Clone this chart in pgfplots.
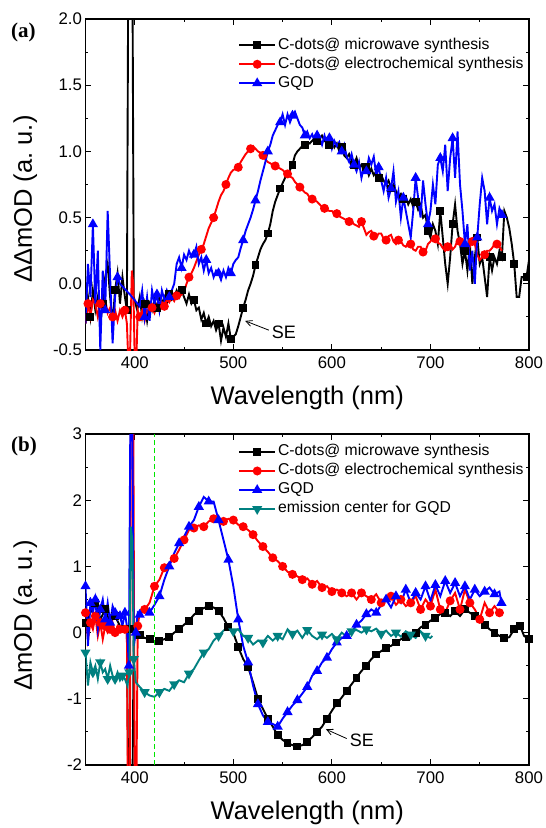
\documentclass[border=0pt]{standalone}
\usepackage{fontspec}
\setmainfont{Liberation Sans}
\newfontfamily\panelfont{Liberation Serif}
\usepackage{pgfplots}
\pgfplotsset{compat=1.18}
\usetikzlibrary{arrows.meta}
\definecolor{emteal}{RGB}{0,128,128}
\definecolor{guide}{RGB}{0,230,0}

\pgfplotsset{
  spec/.style={
    scale only axis, width=443.5pt, height=331pt,
    xmin=350, xmax=800, xtick={400,500,...,800}, minor x tick num=1,
    tick align=inside, major tick length=6pt, minor tick length=3pt,
    axis line style={line width=1.1pt},
    every tick/.style={line width=0.9pt, black},
    tick label style={font=\fontsize{16.8}{18}\selectfont},
    /pgf/number format/assume math mode=true,
    xticklabel style={yshift=-3pt},
    label style={font=\fontsize{25.5}{28}\selectfont},
    xlabel={Wavelength (nm)},
    xlabel style={at={(axis description cs:0.5,-0.145)}, anchor=center},
    legend style={draw=none, fill=none, anchor=north west,
      font=\fontsize{15.7}{18}\selectfont, inner sep=0pt, row sep=0pt, column sep=0pt,
      nodes={inner sep=2pt, text height=11.5pt, text depth=3.5pt}},
    legend cell align=left,
  },
  limg/.style={legend image code/.code={\draw[##1, mark repeat=2, mark phase=2]
      plot coordinates {(0pt,0pt) (18pt,0pt) (36pt,0pt)};}},
  mw/.style={limg, black, line width=1.9pt, mark=square*, mark size=3pt, mark options={solid}},
  ec/.style={limg, red, line width=1.9pt, mark=*, mark size=3.5pt, mark options={solid}},
  gqd/.style={limg, blue, line width=1.9pt, mark=triangle*, mark size=4pt, mark options={solid}},
  emc/.style={limg, emteal, line width=1.9pt, mark=triangle*, mark size=4pt, mark options={solid, rotate=180}},
}

\begin{document}
\begin{tikzpicture}
\path[use as bounding box] (0pt,0pt) rectangle (546pt,-828pt);

% ---------- (a) ----------
\begin{axis}[spec, at={(85.5pt,-350pt)}, anchor=south west,
  ymin=-0.5, ymax=2.0, ytick={-0.5,0,...,2.0}, minor y tick num=1,
  yticklabel style={/pgf/number format/.cd, fixed, fixed zerofill, precision=1},
  ylabel={ΔΔmOD (a.~u.)},
  ylabel style={at={(axis description cs:-0.136,0.456)}, anchor=center},
  legend style={at={(axis description cs:0.344,0.950)}}]

\addplot[mw, mark repeat=5, mark phase=3] coordinates {
(350,-0.3)(352.5,-0.1)(355,-0.25)(357.5,-0.05)(360,-0.2)(362.5,-0.1)(365,-0.3)(367.5,-0.15)(370,0.05)(372.5,0.15)
(375,-0.1)(377.5,-0.3)(380,-0.05)(382.5,0.08)(385,-0.15)(387.5,0.05)(390,-0.1)(392,-0.2)(393.5,2.6)(397.5,2.6)
(399,-0.1)(402.5,-0.2)(405,-0.1)(407.5,-0.25)(410,-0.15)(412.5,-0.28)(415,-0.15)(417.5,-0.2)(420,-0.12)(422.5,-0.18)
(425,-0.1)(427.5,-0.15)(430,-0.1)(432.5,-0.15)(435,-0.08)(437.5,-0.12)(440,-0.1)(442.5,-0.05)(445,-0.1)(447.5,-0.05)
(450,-0.1)(452.5,-0.15)(455,-0.08)(457.5,-0.15)(460,-0.12)(462.5,-0.2)(465,-0.18)(467.5,-0.27)(470,-0.22)(472.5,-0.3)
(475,-0.25)(477.5,-0.32)(480,-0.28)(482.5,-0.35)(485,-0.3)(487.5,-0.43)(490,-0.33)(492.5,-0.4)(495,-0.3)(497.5,-0.42)
(500,-0.4)(502.5,-0.38)(505,-0.32)(507.5,-0.25)(510,-0.18)(512.5,-0.12)(515,-0.05)(517.5,0.0)(520,0.06)(522.5,0.14)
(525,0.2)(527.5,0.26)(530,0.3)(532.5,0.33)(535,0.38)(537.5,0.45)(540,0.55)(542.5,0.62)(545,0.67)(547.5,0.72)
(550,0.76)(552.5,0.8)(555,0.83)(557.5,0.86)(560,0.9)(562.5,0.97)(565,1.0)(567.5,1.02)(570,1.04)(572.5,1.05)
(575,1.07)(577.5,1.06)(580,1.08)(582.5,1.1)(585,1.08)(587.5,1.1)(590,1.12)(592.5,1.08)(595,1.1)(597.5,1.05)
(600,1.08)(602.5,1.03)(605,1.06)(607.5,1.0)(610,1.03)(612.5,0.97)(615,0.95)(617.5,0.98)(620,0.93)(622.5,0.9)
(625,0.95)(627.5,0.88)(630,0.9)(632.5,0.85)(635,0.88)(637.5,0.82)(640,0.87)(642.5,0.82)(645,0.85)(647.5,0.8)
(650,0.82)(652.5,0.78)(655,0.75)(657.5,0.78)(660,0.72)(662.5,0.75)(665,0.7)(667.5,0.66)(670,0.68)(672.5,0.64)
(675,0.66)(677.5,0.6)(680,0.64)(682.5,0.58)(685,0.62)(687.5,0.56)(690,0.6)(692.5,0.5)(695,0.52)(697.5,0.4)
(700,0.35)(702.5,0.45)(705,0.4)(707.5,0.3)(710,0.55)(712.5,0.35)(715,0.15)(717.5,0.0)(720,0.2)(722.5,0.45)
(725,0.6)(727.5,0.4)(730,0.3)(732.5,0.15)(735,0.25)(737.5,0.1)(740,0.3)(742.5,0.0)(745,0.2)(747.5,0.35)
(750,0.15)(752.5,0.2)(755,0.05)(757.5,-0.1)(760,0.2)(762.5,0.1)(765,0.2)(767.5,0.15)(770,0.25)(772.5,0.2)
(775,0.55)(777.5,0.5)(780,0.42)(782.5,0.3)(785,0.15)(787.5,-0.1)(790,-0.1)(792.5,0.05)(795,0.05)(797.5,0.05)(800,0.18)
};
\addlegendentry{C-dots@ microwave synthesis}

\addplot[ec, mark repeat=5, mark phase=2] coordinates {
(350,-0.3)(352.5,-0.15)(355,-0.25)(357.5,-0.12)(360,-0.15)(362.5,-0.25)(365,-0.15)(367.5,-0.2)(370,-0.12)(372.5,-0.22)
(375,-0.18)(377.5,-0.25)(380,-0.2)(382.5,-0.28)(385,-0.2)(387.5,-0.25)(390,-0.2)(392,-0.3)(393.5,-0.6)(395,-0.6)
(397,0.1)(398.5,0.0)(400,-0.6)(401.5,-0.6)(403,-0.2)(405,-0.25)(407.5,-0.2)(410,-0.28)(412.5,-0.2)(415,-0.22)
(417.5,-0.18)(420,-0.22)(422.5,-0.16)(425,-0.18)(427.5,-0.14)(430,-0.17)(432.5,-0.12)(435,-0.14)(437.5,-0.1)(440,-0.13)
(442.5,-0.09)(445,-0.1)(447.5,-0.08)(450,-0.06)(452.5,0.0)(455,0.05)(457.5,0.08)(460,0.12)(462.5,0.17)(465,0.22)
(467.5,0.26)(470,0.3)(472.5,0.36)(475,0.42)(477.5,0.46)(480,0.5)(482.5,0.56)(485,0.62)(487.5,0.67)(490,0.7)
(492.5,0.75)(495,0.8)(497.5,0.84)(500,0.86)(502.5,0.87)(505,0.88)(507.5,0.92)(510,0.95)(512.5,0.98)(515,1.0)
(517.5,1.02)(520,1.04)(522.5,1.02)(525,1.0)(527.5,0.99)(530,0.97)(532.5,0.94)(535,0.92)(537.5,0.91)(540,0.9)
(542.5,0.89)(545,0.88)(547.5,0.87)(550,0.86)(552.5,0.84)(555,0.83)(557.5,0.81)(560,0.8)(562.5,0.77)(565,0.75)
(567.5,0.73)(570,0.71)(572.5,0.69)(575,0.68)(577.5,0.65)(580,0.64)(582.5,0.63)(585,0.62)(587.5,0.6)(590,0.58)
(592.5,0.57)(595,0.56)(597.5,0.55)(600,0.55)(602.5,0.53)(605,0.53)(607.5,0.51)(610,0.5)(612.5,0.49)(615,0.48)
(617.5,0.47)(620,0.47)(622.5,0.45)(625,0.44)(627.5,0.43)(630,0.47)(632.5,0.42)(635,0.37)(637.5,0.39)(640,0.4)
(642.5,0.36)(645,0.35)(647.5,0.38)(650,0.38)(652.5,0.34)(655,0.33)(657.5,0.36)(660,0.37)(662.5,0.32)(665,0.3)
(667.5,0.33)(670,0.32)(672.5,0.29)(675,0.28)(677.5,0.31)(680,0.3)(682.5,0.26)(685,0.25)(687.5,0.28)(690,0.28)
(692.5,0.24)(695,0.25)(697.5,0.3)(700,0.32)(702.5,0.35)(705,0.34)(707.5,0.31)(710,0.3)(712.5,0.27)(715,0.25)
(717.5,0.28)(720,0.3)(722.5,0.26)(725,0.28)(727.5,0.33)(730,0.32)(732.5,0.28)(735,0.3)(737.5,0.25)(740,0.28)
(742.5,0.32)(745,0.3)(747.5,0.22)(750,0.18)(752.5,0.2)(755,0.22)(757.5,0.25)(760,0.25)(762.5,0.27)(765,0.3)
(767.5,0.3)(770,0.28)(772.5,0.25)
};
\addlegendentry{C-dots@ electrochemical synthesis}

\addplot[gqd, mark repeat=5, mark phase=4] coordinates {
(350,-0.3)(352.5,0.15)(355,-0.1)(357.5,0.45)(360,-0.15)(362.5,0.25)(365,-0.5)(367.5,0.1)(370,-0.2)(372.5,0.55)
(375,0.05)(377.5,-0.45)(380,-0.1)(382.5,0.05)(385,0.0)(395,-0.08)(405,-0.17)(407.5,-0.05)(410,-0.25)(412.5,-0.1)
(415,-0.28)(417.5,-0.05)(420,-0.15)(422.5,-0.08)(425,-0.2)(427.5,-0.05)(430,-0.12)(432.5,-0.05)(435,-0.1)(437.5,-0.05)
(440,0.0)(442.5,0.15)(445,0.2)(447.5,0.12)(450,0.22)(452.5,0.18)(455,0.25)(457.5,0.2)(460,0.22)(462.5,0.28)
(465,0.15)(467.5,0.2)(470,0.1)(472.5,0.18)(475,0.08)(477.5,0.12)(480,0.05)(482.5,0.1)(485,0.08)(487.5,0.03)
(490,0.1)(492.5,0.05)(495,0.12)(497.5,0.08)(500,0.15)(502.5,0.18)(505,0.2)(507.5,0.27)(510,0.33)(512.5,0.4)
(515,0.45)(517.5,0.5)(520,0.56)(522.5,0.63)(525,0.7)(527.5,0.78)(530,0.85)(532.5,0.92)(535,1.0)(537.5,1.05)
(540,1.12)(542.5,1.16)(545,1.2)(547.5,1.22)(550,1.28)(552.5,1.2)(555,1.28)(557.5,1.22)(560,1.27)(562.5,1.3)
(565,1.25)(567.5,1.2)(570,1.18)(572.5,1.12)(575,1.15)(577.5,1.1)(580,1.13)(582.5,1.08)(585,1.12)(587.5,1.1)
(590,1.05)(592.5,1.12)(595,1.06)(597.5,1.1)(600,1.02)(602.5,1.08)(605,1.04)(607.5,1.07)(610,1.0)(612.5,1.05)
(615,0.96)(617.5,0.92)(620,0.98)(622.5,0.9)(625,0.85)(627.5,0.92)(630,0.8)(632.5,0.88)(635,0.85)(637.5,0.95)
(640,0.9)(642.5,0.96)(645,0.82)(647.5,0.88)(650,0.78)(652.5,0.7)(655,0.8)(657.5,0.65)(660,0.72)(662.5,0.85)
(665,0.62)(667.5,0.7)(670,0.5)(672.5,0.65)(675,0.55)(677.5,0.45)(680,0.35)(682.5,0.55)(685,0.8)(687.5,0.65)
(690,0.5)(692.5,0.78)(695,0.6)(697.5,0.45)(700,0.55)(702.5,0.75)(705,0.6)(707.5,0.9)(710,0.95)(712.5,0.85)
(715,1.05)(717.5,0.7)(720,0.95)(722.5,1.1)(725,0.8)(727.5,1.15)(730,0.75)(732.5,0.55)(735,0.3)(737.5,0.45)
(740,0.1)(742.5,0.25)(745,0.0)(747.5,0.35)(750,0.6)(752.5,0.8)(755,0.7)(757.5,0.45)(760,0.65)(762.5,0.55)
(765,0.6)(767.5,0.45)(770,0.57)(772.5,0.52)
};
\addlegendentry{GQD}

\draw[line width=0.8pt, -{Straight Barb[length=6pt,width=6pt]}] (axis cs:536,-0.35) -- (axis cs:512,-0.28);
\node[anchor=west, inner sep=1pt, font=\fontsize{18}{20}\selectfont] at (axis cs:538,-0.37) {SE};
\end{axis}

% ---------- (b) ----------
\begin{axis}[spec, at={(85.5pt,-765pt)}, anchor=south west,
  ymin=-2, ymax=3, ytick={-2,-1,...,3}, minor y tick num=1,
  ylabel={ΔmOD (a.~u.)},
  ylabel style={at={(axis description cs:-0.136,0.452)}, anchor=center},
  legend style={at={(axis description cs:0.344,0.975)}}]

\addplot[mw, mark repeat=2] coordinates {
(350,0.15)(355,0.3)(360,0.45)(365,0.2)(370,0.35)(375,0.15)(380,0.25)(385,0.1)(390,0.05)(392,0.0)
(393.5,-2.6)(397.5,-2.6)(399,0.05)(402,0.0)(405,-0.03)(410,-0.08)(415,-0.1)(420,-0.14)(425,-0.12)(430,-0.1)
(435,-0.07)(440,0.0)(445,0.05)(450,0.12)(455,0.18)(460,0.27)(465,0.33)(470,0.37)(475,0.4)(480,0.38)
(485,0.33)(490,0.22)(495,0.08)(500,0.0)(505,-0.22)(510,-0.4)(515,-0.52)(520,-0.75)(525,-1.0)(530,-1.15)
(535,-1.3)(540,-1.42)(545,-1.55)(550,-1.62)(555,-1.67)(560,-1.7)(565,-1.72)(570,-1.7)(575,-1.65)(580,-1.58)
(585,-1.5)(590,-1.42)(595,-1.3)(600,-1.18)(605,-1.07)(610,-0.98)(615,-0.88)(620,-0.78)(625,-0.68)(630,-0.58)
(635,-0.5)(640,-0.4)(645,-0.33)(650,-0.28)(655,-0.23)(660,-0.2)(665,-0.15)(670,-0.1)(675,-0.06)(680,-0.02)
(685,0.0)(690,0.08)(695,0.12)(700,0.18)(705,0.22)(710,0.28)(715,0.3)(720,0.25)(725,0.32)(730,0.25)
(735,0.35)(740,0.3)(745,0.25)(750,0.22)(755,0.12)(760,0.05)(765,0.0)(770,-0.05)(775,-0.08)(780,-0.07)
(785,0.05)(788,0.12)(791,0.1)(795,-0.05)(800,-0.1)
};
\addlegendentry{C-dots@ microwave synthesis}

\addplot[ec, mark repeat=2] coordinates {
(350,0.3)(352.5,-0.1)(355,0.15)(357.5,0.05)(360,0.25)(362.5,-0.05)(365,0.15)(367.5,-0.1)(370,0.1)(372.5,0.0)
(375,0.05)(377.5,0.15)(380,0.0)(382.5,0.1)(385,0.05)(387.5,0.1)(390,0.05)(392,0.0)(393,-2.6)(395,-2.6)
(396,3.2)(398.5,3.2)(400,-2.6)(401.5,-2.6)(403,0.1)(405,0.3)(410,0.35)(415,0.45)(420,0.7)(425,0.8)
(430,0.98)(435,1.05)(440,1.12)(445,1.25)(450,1.4)(455,1.55)(460,1.58)(465,1.62)(470,1.6)(475,1.68)
(480,1.72)(485,1.7)(490,1.68)(495,1.72)(500,1.7)(505,1.63)(510,1.6)(515,1.55)(520,1.48)(525,1.38)
(530,1.3)(535,1.22)(540,1.13)(545,1.08)(550,1.0)(555,0.92)(560,0.88)(565,0.85)(570,0.8)(575,0.82)
(580,0.73)(585,0.78)(590,0.68)(595,0.7)(600,0.62)(605,0.65)(610,0.6)(615,0.55)(620,0.6)(625,0.5)
(630,0.6)(635,0.55)(640,0.5)(645,0.58)(650,0.45)(655,0.5)(660,0.55)(665,0.42)(670,0.5)(675,0.4)
(680,0.45)(685,0.55)(690,0.35)(695,0.5)(700,0.4)(705,0.65)(710,0.35)(715,0.3)(720,0.48)(725,0.6)
(730,0.35)(735,0.65)(740,0.45)(745,0.35)(750,0.2)(755,0.45)(760,0.3)(765,0.4)(770,0.3)(772,0.35)
};
\addlegendentry{C-dots@ electrochemical synthesis}

\addplot[gqd, mark repeat=2] coordinates {
(350,0.7)(352.5,-0.2)(355,0.45)(357.5,0.3)(360,0.5)(362.5,0.05)(365,0.35)(367.5,0.5)(370,0.2)(372.5,0.45)
(375,0.15)(377.5,0.4)(380,0.3)(382.5,0.2)(385,0.25)(387.5,0.1)(390,0.3)(392,0.1)(394,-0.5)(395.5,3.2)
(397.5,3.2)(399,-0.2)(401,0.0)(403,0.3)(405,0.27)(410,0.35)(415,0.3)(420,0.42)(425,0.55)(430,0.8)
(435,1.0)(440,1.2)(445,1.35)(450,1.45)(455,1.6)(460,1.7)(465,1.9)(470,2.05)(475,1.98)(480,1.98)
(485,1.7)(490,1.4)(495,1.1)(500,0.7)(505,0.2)(510,-0.2)(515,-0.45)(520,-0.8)(525,-1.08)(530,-1.25)
(535,-1.35)(540,-1.38)(545,-1.42)(550,-1.3)(555,-1.2)(560,-1.1)(565,-1.02)(570,-0.92)(575,-0.82)(580,-0.65)
(585,-0.58)(590,-0.45)(595,-0.38)(600,-0.25)(605,-0.15)(610,-0.08)(615,-0.05)(620,0.0)(625,0.12)(630,0.18)
(635,0.28)(640,0.35)(645,0.3)(650,0.42)(655,0.5)(660,0.38)(665,0.55)(670,0.45)(675,0.65)(680,0.45)
(685,0.6)(690,0.5)(695,0.7)(700,0.48)(705,0.72)(710,0.55)(715,0.78)(720,0.6)(725,0.75)(730,0.55)
(735,0.7)(740,0.5)(745,0.65)(750,0.55)(755,0.62)(760,0.68)(765,0.58)(770,0.62)(772,0.45)
};
\addlegendentry{GQD}

\addplot[emc, mark repeat=3] coordinates {
(350,-0.3)(352.5,-0.8)(355,-0.45)(357.5,-0.6)(360,-0.5)(362.5,-0.7)(365,-0.45)(367.5,-0.6)(370,-0.55)(372.5,-0.7)
(375,-0.5)(377.5,-0.65)(380,-0.7)(382.5,-0.6)(385,-0.72)(387.5,-0.65)(390,-0.7)(392.5,-0.8)(394.5,-0.6)(396,1.6)
(397.5,1.4)(399,-0.4)(401,-0.75)(405,-0.82)(410,-0.9)(415,-0.95)(420,-0.97)(425,-0.9)(430,-0.85)(435,-0.88)
(440,-0.78)(445,-0.72)(450,-0.75)(455,-0.62)(460,-0.55)(465,-0.42)(470,-0.3)(475,-0.25)(480,-0.12)(485,-0.05)
(490,0.03)(495,0.08)(500,0.02)(505,0.05)(510,-0.05)(515,-0.08)(520,-0.18)(525,-0.12)(530,-0.15)(535,-0.05)
(540,-0.12)(545,-0.05)(550,-0.1)(555,0.05)(560,-0.02)(565,0.03)(570,-0.08)(575,0.04)(580,-0.05)(585,-0.1)
(590,-0.03)(595,-0.08)(600,-0.02)(605,-0.1)(610,0.0)(615,-0.06)(620,0.02)(625,0.04)(630,0.0)(635,0.05)
(640,0.02)(645,0.06)(650,-0.02)(655,0.03)(660,-0.05)(665,0.0)(670,-0.06)(675,0.02)(680,-0.03)(685,-0.08)
(690,0.02)(695,-0.05)(700,-0.08)(702,-0.05)
};
\addlegendentry{emission center for GQD}

\addplot[guide, line width=1.3pt, dash pattern=on 5pt off 3pt, forget plot] coordinates {(420,-2) (420,3)};

\draw[line width=0.8pt, -{Straight Barb[length=6pt,width=6pt]}] (axis cs:615,-1.6) -- (axis cs:594,-1.46);
\node[anchor=west, inner sep=1pt, font=\fontsize{18}{20}\selectfont] at (axis cs:617,-1.62) {SE};
\end{axis}

\node[anchor=west, inner sep=0pt, font=\panelfont\bfseries\fontsize{21}{22}\selectfont] at (11pt,-32pt) {(a)};
\node[anchor=west, inner sep=0pt, font=\panelfont\bfseries\fontsize{21}{22}\selectfont] at (11pt,-446pt) {(b)};
\end{tikzpicture}
\end{document}
